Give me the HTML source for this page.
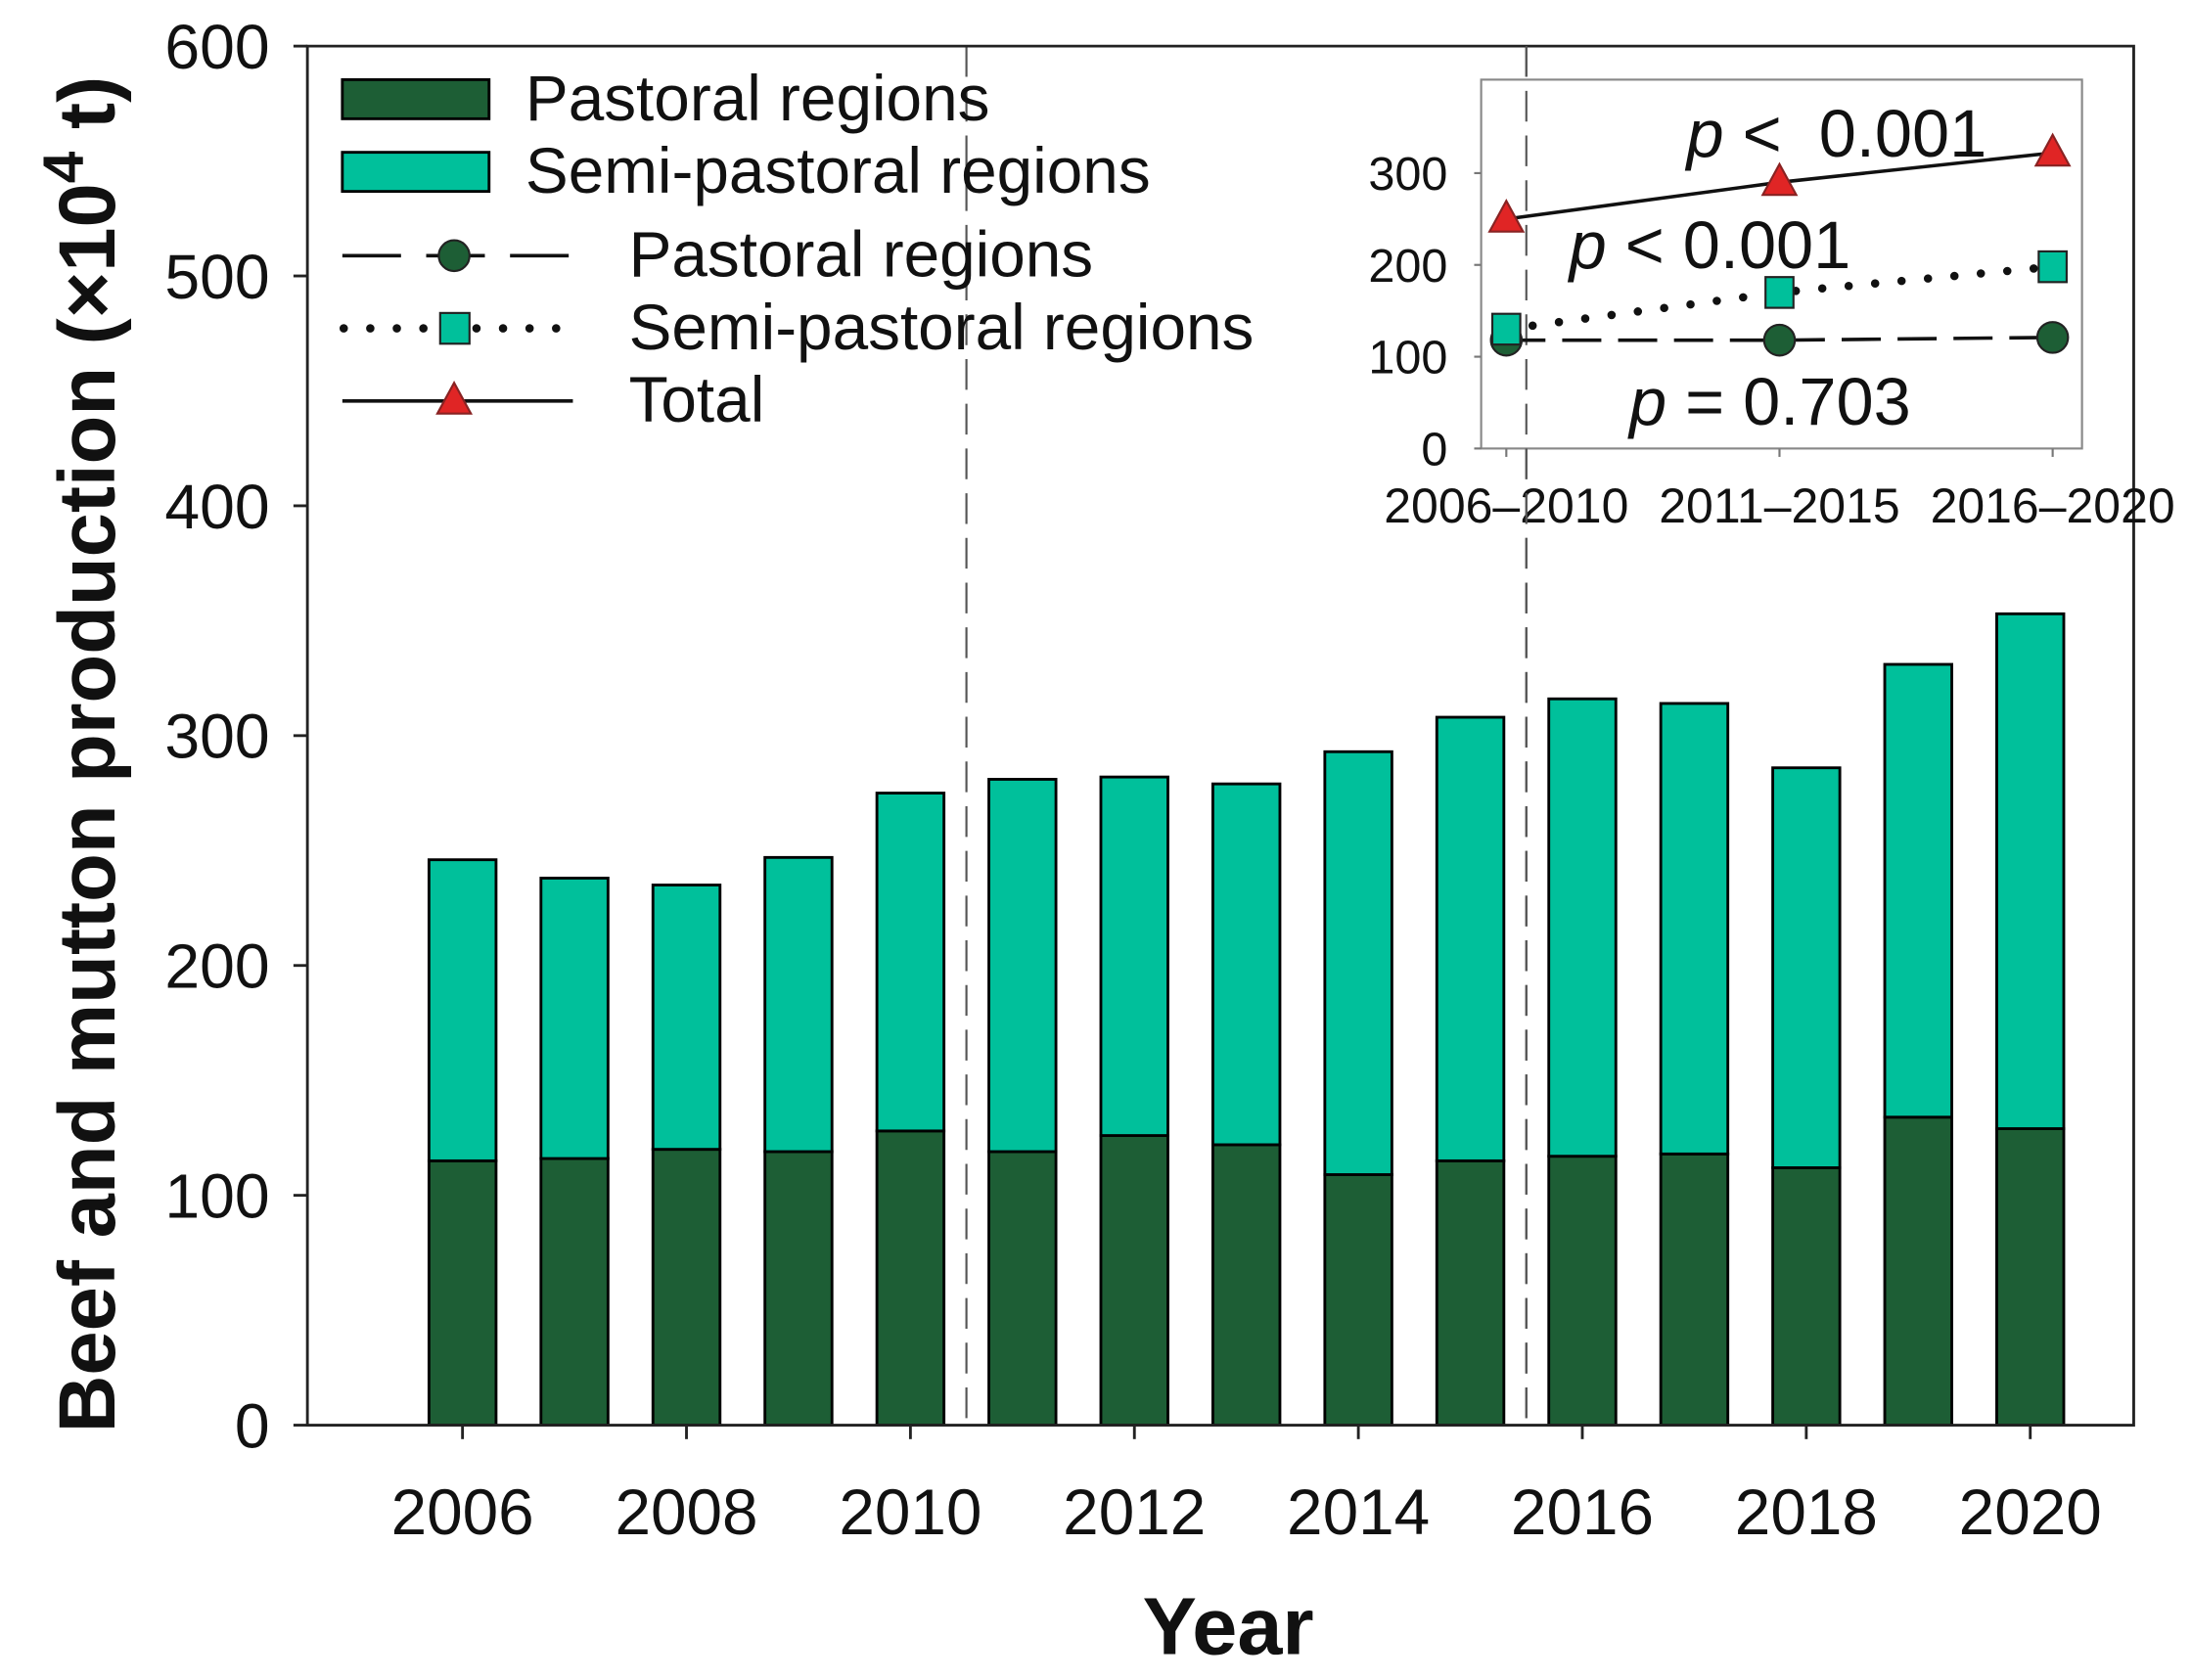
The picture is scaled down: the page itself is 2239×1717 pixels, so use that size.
<!DOCTYPE html>
<html><head><meta charset="utf-8"><style>
html,body{margin:0;padding:0;background:#fff;}
svg{display:block;font-family:"Liberation Sans",Arial,sans-serif;}
</style></head><body>
<svg id="chart" width="2239" height="1717" viewBox="0 0 1568 1202.4" preserveAspectRatio="none" xmlns="http://www.w3.org/2000/svg">
<g id="main"></g>
<g id="inset"></g>
</svg>
<script>
const years = [2006,2007,2008,2009,2010,2011,2012,2013,2014,2015,2016,2017,2018,2019,2020];
const pastoral = [115,116,120,119,128,119,126,122,109,115,117,118,112,134,129];
const totals = [246,238,235,247,275,281,282,279,293,308,316,314,286,331,353];
const yTicks = [0,100,200,300,400,500,600];
const xTickYears = [2006,2008,2010,2012,2014,2016,2018,2020];
const periodBreaks = [2010.5,2015.5];
const periods = ["2006–2010","2011–2015","2016–2020"];
const insetPastoral = [118,118,121];
const insetSemi = [130,170,198];
const insetTotal = [250,290,322];
const insetTicks = [0,100,200,300];

const NS="http://www.w3.org/2000/svg";
function mk(parent,tag,attrs,text){const e=document.createElementNS(NS,tag);for(const k in attrs)e.setAttribute(k,attrs[k]);if(text!==undefined)e.textContent=text;parent.appendChild(e);return e;}
const DARK="#1d5e35", TEAL="#00c09b";
const main=document.getElementById('main');
const L=220,R=1527,T=33,B=1020;
const ys=v=>B-(v/600)*(B-T);
const xs=y=>331+(y-2006)*80.14;
const bw=48;

years.forEach((yr,i)=>{
  const x=xs(yr)-bw/2;
  const r1=mk(main,'rect',{x:x,y:ys(pastoral[i]),width:bw,height:B-ys(pastoral[i]),fill:DARK,stroke:'#000','stroke-width':2});
  
  
  const r2=mk(main,'rect',{x:x,y:ys(totals[i]),width:bw,height:ys(pastoral[i])-ys(totals[i]),fill:TEAL,stroke:'#000','stroke-width':2});
  
  
});
periodBreaks.forEach(p=>{
  const l=mk(main,'line',{x1:xs(p),x2:xs(p),y1:T,y2:B,stroke:'#555','stroke-width':1.5,'stroke-dasharray':'22 10'});
  
  
});
const ax=mk(main,'path',{d:`M${L},${T} L${R},${T} L${R},${B} L${L},${B} Z`,fill:'none',stroke:'#222','stroke-width':2});


yTicks.forEach(v=>{
  mk(main,'line',{x1:L-10,x2:L,y1:ys(v),y2:ys(v),stroke:'#222','stroke-width':2});
  const t=mk(main,'text',{x:L-27,y:ys(v)+16,'text-anchor':'end','font-size':45,fill:'#111'},v);
  
  
});
xTickYears.forEach(yr=>{
  mk(main,'line',{x1:xs(yr),x2:xs(yr),y1:B,y2:B+10,stroke:'#222','stroke-width':2});
  const t=mk(main,'text',{x:xs(yr),y:B+78,'text-anchor':'middle','font-size':46,fill:'#111'},yr);
  
  
});
const xt=mk(main,'text',{x:879,y:1184,'text-anchor':'middle','font-size':58,'font-weight':'bold',fill:'#111'},'Year');


const yt=mk(main,'text',{transform:'translate(82,540) rotate(-90)','text-anchor':'middle','font-size':57,'font-weight':'bold',fill:'#111'});


yt.appendChild(document.createTextNode('Beef and mutton production (×10'));
mk(yt,'tspan',{dy:-23,'font-size':41},'4');
mk(yt,'tspan',{dy:23},' t)');

function legText(x,y,s,name){const t=mk(main,'text',{x:x,y:y,'font-size':46,fill:'#111'},s);}
const lp=mk(main,'rect',{x:245,y:57,width:105,height:28,fill:DARK,stroke:'#000','stroke-width':2});


legText(376,86,'Pastoral regions','legend-label-pastoral-bar');
const ls=mk(main,'rect',{x:245,y:109,width:105,height:28,fill:TEAL,stroke:'#000','stroke-width':2});


legText(376,138,'Semi-pastoral regions','legend-label-semi-bar');
mk(main,'line',{x1:245,x2:410,y1:183,y2:183,stroke:'#111','stroke-width':2.5,'stroke-dasharray':'42 18'});
mk(main,'circle',{cx:325,cy:183,r:11,fill:DARK,stroke:'#222','stroke-width':1.5});
legText(450,198,'Pastoral regions','legend-label-pastoral-line');
mk(main,'line',{x1:246,x2:410,y1:235,y2:235,stroke:'#111','stroke-width':6,'stroke-dasharray':'0 19','stroke-linecap':'round'});
mk(main,'rect',{x:315,y:224,width:21,height:22,fill:TEAL,stroke:'#222','stroke-width':1.5});
legText(450,250,'Semi-pastoral regions','legend-label-semi-line');
mk(main,'line',{x1:245,x2:410,y1:287,y2:287,stroke:'#111','stroke-width':2.5});
mk(main,'path',{d:'M325,274 L337,296 L313,296 Z',fill:'#e02525',stroke:'#822','stroke-width':1.5});
legText(450,302,'Total','legend-label-total');

const ins=document.getElementById('inset');
const IL=1060,IR=1490,IT=57,IB=321;
const iys=v=>IB-v*0.657;
const ixs=i=>1078+i*195.5;
const fr=mk(ins,'rect',{x:IL,y:IT,width:IR-IL,height:IB-IT,fill:'#fff',stroke:'#888','stroke-width':1.5});


insetTicks.forEach(v=>{
  mk(ins,'line',{x1:IL-5,x2:IL,y1:iys(v),y2:iys(v),stroke:'#777','stroke-width':1.5});
  const t=mk(ins,'text',{x:IL-24,y:iys(v)+12,'text-anchor':'end','font-size':34,fill:'#111'},v);
  
  
});
periods.forEach((p,i)=>{
  mk(ins,'line',{x1:ixs(i),x2:ixs(i),y1:IB,y2:IB+6,stroke:'#777','stroke-width':1.5});
  const t=mk(ins,'text',{x:ixs(i),y:IB+53,'text-anchor':'middle','font-size':35,fill:'#111'},p);
  
  
});
mk(ins,'line',{x1:xs(2015.5),x2:xs(2015.5),y1:T,y2:B,stroke:'#555','stroke-width':1.5,'stroke-dasharray':'22 10'});
const pts=a=>a.map((v,i)=>ixs(i)+','+iys(v)).join(' ');
const lP=mk(ins,'polyline',{points:pts(insetPastoral),fill:'none',stroke:'#111','stroke-width':2.5,'stroke-dasharray':'28 12'});


const lS=mk(ins,'polyline',{points:pts(insetSemi),fill:'none',stroke:'#111','stroke-width':6,'stroke-dasharray':'0 19','stroke-linecap':'round'});


const lT=mk(ins,'polyline',{points:pts(insetTotal),fill:'none',stroke:'#111','stroke-width':2.5});


insetPastoral.forEach((v,i)=>{
  const c=mk(ins,'circle',{cx:ixs(i),cy:iys(v),r:11,fill:DARK,stroke:'#222','stroke-width':1.5});
  
  
});
insetSemi.forEach((v,i)=>{
  const s=mk(ins,'rect',{x:ixs(i)-10,y:iys(v)-11,width:20,height:22,fill:TEAL,stroke:'#222','stroke-width':1.5});
  
  
});
insetTotal.forEach((v,i)=>{
  const x=ixs(i),y=iys(v);
  const t=mk(ins,'path',{d:`M${x},${y-13} L${x+12},${y+9} L${x-12},${y+9} Z`,fill:'#e02525',stroke:'#822','stroke-width':1.5});
  
  
});
function pText(x,y,rest,name){
  const t=mk(ins,'text',{x:x,y:y,'font-size':48,fill:'#111'});
  
  
  mk(t,'tspan',{'font-style':'italic'},'p');
  t.appendChild(document.createTextNode(rest));
}
pText(1207,112,' <\u00a0 0.001','p-value-total');
pText(1123,192,' < 0.001','p-value-semi-pastoral');
pText(1166,304,' = 0.703','p-value-pastoral');
</script>
</body></html>
